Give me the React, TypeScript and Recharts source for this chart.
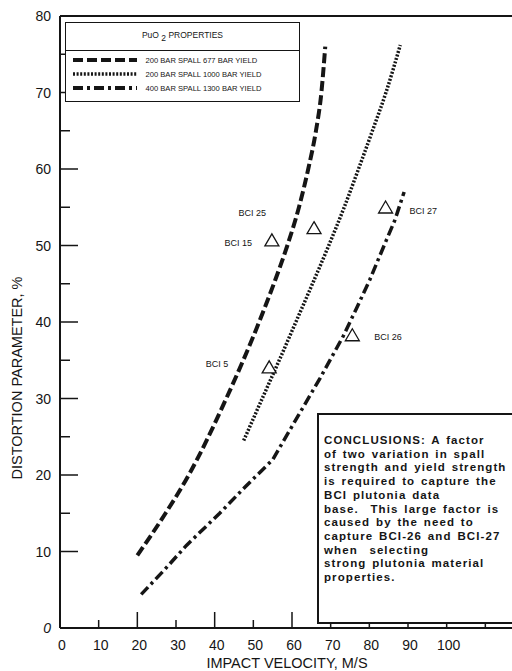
import React from "react";
import {
  ComposedChart,
  Line,
  Scatter,
  XAxis,
  YAxis,
  ReferenceLine,
} from "recharts";

const velocityA = [20, 27.3, 33.3, 43, 51.5, 55.3, 58.8, 61.8, 64.2, 66.2, 67.6, 68.6];
const distortionA = [9.5, 15, 20, 30, 40, 45, 50, 55, 60, 65, 70, 76];

const velocityB = [47.5, 52.3, 56.7, 61, 65.3, 69.5, 73.5, 77.2, 80.8, 84.3, 88];
const distortionB = [24.5, 30, 35, 40, 45, 50, 55, 60, 65, 70, 76.2];

const velocityC = [21, 27, 32.7, 41.3, 48, 55, 62, 67.2, 73.2, 76.7, 80.1, 84.4, 86.6, 89];
const distortionC = [4.4, 7.6, 10.8, 15, 18.5, 22, 28.1, 32.6, 38.1, 41.8, 45.5, 50.7, 53.3, 57];

const seriesNames = [
  "200 BAR SPALL 677 BAR YIELD",
  "200 BAR SPALL 1000 BAR YIELD",
  "400 BAR SPALL 1300 BAR YIELD",
];

const bciNames = ["BCI 5", "BCI 15", "BCI 25", "BCI 26", "BCI 27"];
const bciVelocity = [54.1, 54.8, 65.7, 75.6, 84.2];
const bciDistortion = [34.0, 50.6, 52.2, 38.2, 54.9];

const xTicks = [0, 10, 20, 30, 40, 50, 60, 70, 80, 90, 100, 110];
const yTicks = [0, 10, 15, 20, 25, 30, 35, 40, 45, 50, 55, 60, 65, 70, 75, 80];

const conclusionLines = [
  "CONCLUSIONS: A factor",
  "of two variation in spall",
  "strength and yield strength",
  "is required to capture the",
  "BCI plutonia data",
  "base.  This large factor is",
  "caused by the need to",
  "capture BCI-26 and BCI-27",
  "when  selecting",
  "strong plutonia material",
  "properties.",
];

const toPoints = (xs: number[], ys: number[]) => xs.map((x, i) => ({ x, y: ys[i] }));
const seriesA = toPoints(velocityA, distortionA);
const seriesB = toPoints(velocityB, distortionB);
const seriesC = toPoints(velocityC, distortionC);
const bciPoints = bciNames.map((name, i) => ({ name, x: bciVelocity[i], y: bciDistortion[i] }));

const INK = "#151515";
const FONT = "'Liberation Sans', Arial, Helvetica, sans-serif";
const dashes = ["10 4", "2 1.6", "10 4 3 4"];

// where each point label sits relative to its triangle
const labelOffset: Record<string, [number, number, "start" | "end"]> = {
  "BCI 5": [-41, -4, "end"],
  "BCI 15": [-20, 2, "end"],
  "BCI 25": [-48, -16, "end"],
  "BCI 26": [22, 1, "start"],
  "BCI 27": [24, 3, "start"],
};

const XTick = ({ x, y, payload }: any) => {
  const v = payload.value;
  return (
    <g>
      <line x1={x} x2={x} y1={y} y2={y - (v % 20 === 0 ? 16 : 8)} stroke={INK} strokeWidth={1.5} />
      {v <= 100 && (
        <text x={x + 2} y={y + 22} textAnchor="middle" fontSize={14} fill={INK} fontFamily={FONT}>
          {v}
        </text>
      )}
    </g>
  );
};

const YTick = ({ x, y, payload }: any) => {
  const v = payload.value;
  return (
    <g>
      <line x1={x} x2={x + (v % 10 === 0 ? 18 : 10)} y1={y} y2={y} stroke={INK} strokeWidth={1.5} />
      {v % 10 === 0 && (
        <text
          x={x - 9}
          y={y + 5}
          textAnchor="end"
          fontSize={14}
          fill={INK}
          fontFamily={FONT}
          fontStyle={v === 0 ? "italic" : "normal"}
        >
          {v}
        </text>
      )}
    </g>
  );
};

const Triangle = (props: any) => {
  const { cx, cy, payload } = props;
  const [dx, dy, anchor] = labelOffset[payload.name];
  return (
    <g>
      <path
        d={`M${cx},${cy - 7} L${cx + 7},${cy + 5} L${cx - 7},${cy + 5} Z`}
        fill="#fff"
        stroke={INK}
        strokeWidth={1.3}
      />
      <text x={cx + dx} y={cy + dy + 3} textAnchor={anchor} fontSize={9} fill={INK} fontFamily={FONT}>
        {payload.name}
      </text>
    </g>
  );
};

function LegendBox() {
  return (
    <div
      style={{
        position: "absolute",
        left: 65,
        top: 22,
        width: 233,
        border: `1.5px solid ${INK}`,
        background: "#fff",
        fontFamily: FONT,
        color: INK,
        paddingBottom: 6,
      }}
    >
      <div
        style={{
          height: 27,
          lineHeight: "25px",
          borderBottom: `1.5px solid ${INK}`,
          textAlign: "center",
          fontSize: 8.5,
        }}
      >
        PuO <span style={{ position: "relative", top: 3 }}>2</span> PROPERTIES
      </div>
      <div style={{ paddingTop: 2 }}>
        {seriesNames.map((name, i) => (
          <div key={name} style={{ height: 14, display: "flex", alignItems: "center" }}>
            <svg width={64} height={8} style={{ marginLeft: 6.5, marginRight: 9 }}>
              <line x1={0} x2={64} y1={4} y2={4} stroke={INK} strokeWidth={i === 1 ? 3.5 : 4} strokeDasharray={dashes[i]} />
            </svg>
            <span style={{ fontSize: 7.6, whiteSpace: "nowrap" }}>{name}</span>
          </div>
        ))}
      </div>
    </div>
  );
}

function ConclusionBox() {
  return (
    <div
      style={{
        position: "absolute",
        left: 317,
        top: 413,
        width: 240,
        height: 188,
        border: `2px solid ${INK}`,
        background: "#fff",
        padding: "19px 0 0 5px",
        fontFamily: FONT,
        fontSize: 11.5,
        fontWeight: 700,
        letterSpacing: 1.1,
        wordSpacing: 1.5,
        lineHeight: "13.7px",
        whiteSpace: "pre",
        color: INK,
      }}
    >
      {conclusionLines.map((l) => (
        <div key={l}>{l}</div>
      ))}
    </div>
  );
}

export default function App() {
  return (
    <div
      style={{
        position: "absolute",
        left: 0,
        top: 0,
        width: 512,
        height: 671,
        overflow: "hidden",
        background: "#fff",
      }}
    >
      <ComposedChart width={530} height={671} margin={{ top: 16, right: 6, bottom: 0, left: 0 }}>
        <XAxis
          type="number"
          dataKey="x"
          domain={[0, 120]}
          ticks={xTicks}
          height={43}
          tickSize={0}
          tickMargin={0}
          tickLine={false}
          axisLine={{ stroke: INK, strokeWidth: 2 }}
          tick={<XTick />}
          allowDataOverflow
          label={{
            content: () => (
              <text x={287} y={668} textAnchor="middle" fontSize={14.5} fill={INK} fontFamily={FONT}>
                IMPACT VELOCITY, M/S
              </text>
            ),
          }}
        />
        <YAxis
          type="number"
          domain={[0, 80]}
          ticks={yTicks}
          width={60}
          tickSize={0}
          tickMargin={0}
          tickLine={false}
          axisLine={{ stroke: INK, strokeWidth: 2 }}
          tick={<YTick />}
          allowDataOverflow
          label={{
            content: () => (
              <text
                x={22}
                y={378}
                transform="rotate(-90 22 378)"
                textAnchor="middle"
                fontSize={14.5}
                fill={INK}
                fontFamily={FONT}
              >
                DISTORTION PARAMETER, %
              </text>
            ),
          }}
        />
        <ReferenceLine y={80} stroke={INK} strokeWidth={2} />
        <Line data={seriesA} dataKey="y" type="monotone" stroke={INK} strokeWidth={4} strokeDasharray={dashes[0]} dot={false} isAnimationActive={false} />
        <Line data={seriesB} dataKey="y" type="monotone" stroke={INK} strokeWidth={3.5} strokeDasharray={dashes[1]} dot={false} isAnimationActive={false} />
        <Line data={seriesC} dataKey="y" type="linear" stroke={INK} strokeWidth={3.5} strokeDasharray={dashes[2]} dot={false} isAnimationActive={false} />
        <Scatter data={bciPoints} dataKey="y" shape={<Triangle />} isAnimationActive={false} />
      </ComposedChart>
      <LegendBox />
      <ConclusionBox />
    </div>
  );
}
